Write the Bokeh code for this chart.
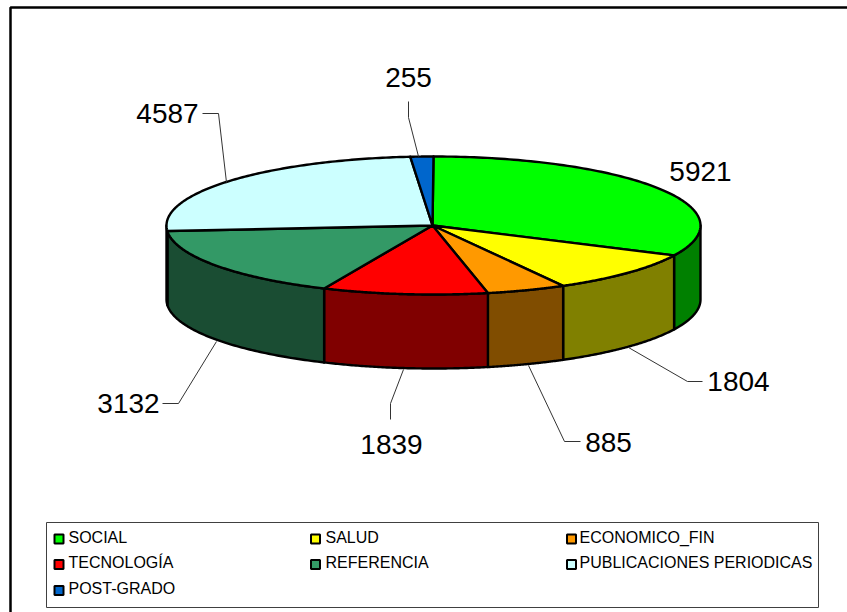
import numpy as np
from bokeh.plotting import figure
from bokeh.models import ColumnDataSource, Range1d
from bokeh.core.properties import value
from bokeh.embed import file_html
from bokeh.resources import INLINE

# ---- data ----
categories = ["SOCIAL", "SALUD", "ECONOMICO_FIN", "TECNOLOGÍA", "REFERENCIA",
              "PUBLICACIONES PERIODICAS", "POST-GRADO"]
values = [5921, 1804, 885, 1839, 3132, 4587, 255]
top_colors = ["#00ff00", "#ffff00", "#ff9900", "#ff0000", "#339966", "#ccffff", "#0066cc"]
side_colors = ["#008000", "#808000", "#804d00", "#800000", "#1a4d33", "#668080", "#003366"]

label_x = [700, 738, 608, 391, 128, 167, 408]
label_y = [171, 381, 442, 444, 403, 113, 77]
leader_xs = [[], [628, 687, 702], [528, 564, 580], [403, 390, 390],
             [216, 178, 162], [226, 218, 202], [418, 408, 408]]
leader_ys = [[], [347, 381, 381], [365, 441, 441], [369, 403, 419],
             [341, 403, 403], [182, 113, 113], [156, 117, 101]]

legend_square_x = [58.5, 315, 571, 58.5, 315, 571, 58.5]
legend_text_x = [68, 325, 579, 68, 325, 579, 68]
legend_row_y = [538.5, 538.5, 538.5, 564, 564, 564, 590]

CX, CY, RX, RY, DEPTH = 433, 225, 267, 69, 74

W, H = 847, 612
p = figure(width=W, height=H, output_backend="svg", toolbar_location=None,
           x_range=Range1d(0, W), y_range=Range1d(H, 0),
           min_border=0, x_axis_type=None, y_axis_type=None)
p.xgrid.visible = False
p.ygrid.visible = False
p.outline_line_color = None
p.background_fill_color = "white"
p.border_fill_color = "white"
p.styles = {"position": "absolute", "left": "0px", "top": "0px"}


def ell(theta):
    return CX + RX * np.sin(theta), CY - RY * np.cos(theta)


edges = np.concatenate([[0], np.cumsum(values)]) / sum(values) * 2 * np.pi

# outer frame: left and top rules only
p.line([10, 10, W], [H, 7, 7], line_color="black", line_width=2.5)

# side walls
wx, wy, wc = [], [], []
for a, b, c in zip(edges[:-1], edges[1:], side_colors):
    lo, hi = max(a, np.pi / 2), min(b, 3 * np.pi / 2)
    if hi <= lo:
        continue
    t = np.linspace(lo, hi, 80)
    x, y = ell(t)
    wx.append(np.concatenate([x, x[::-1]]).tolist())
    wy.append(np.concatenate([y, (y + DEPTH)[::-1]]).tolist())
    wc.append(c)
p.patches(wx, wy, fill_color=wc, line_color="black", line_width=2.4, line_join="round")

# top faces
tx, ty = [], []
for a, b in zip(edges[:-1], edges[1:]):
    t = np.linspace(a, b, 120)
    x, y = ell(t)
    tx.append([CX - 1] + x.tolist())
    ty.append([CY] + y.tolist())
p.patches(tx, ty, fill_color=top_colors, line_color="black", line_width=2.4, line_join="round")

# leader lines
for xs, ys in zip(leader_xs, leader_ys):
    if xs:
        p.line(xs, ys, line_color="#333333", line_width=1)

# value labels
p.text(label_x, label_y, text=[str(v) for v in values],
       text_font=value("Liberation Sans"), text_font_size=value("28px"),
       text_color="black", text_align="center", text_baseline="middle")

# legend box
p.quad(left=[46], right=[818], top=[522], bottom=[607],
       fill_color="white", line_color="#404040", line_width=1)
p.rect(legend_square_x, legend_row_y, width=9, height=9, fill_color=top_colors,
       line_color="black", line_width=2)
p.text(legend_text_x, [y - 2 for y in legend_row_y], text=categories,
       text_font=value("Liberation Sans"), text_font_size=value("16px"),
       text_color="black", text_align="left", text_baseline="middle")

open("out.html", "w", encoding="utf-8").write(file_html(p, INLINE))
